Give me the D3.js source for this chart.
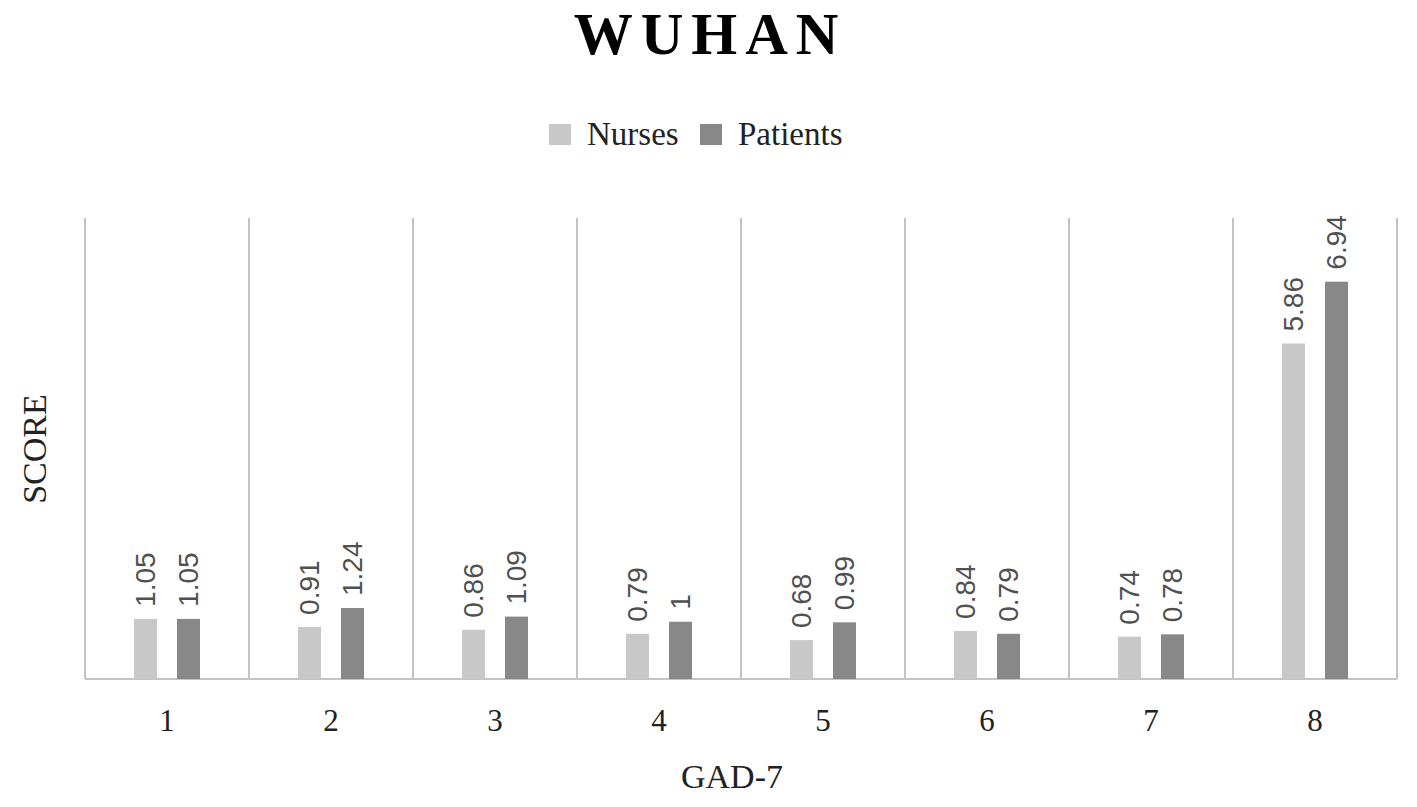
<!DOCTYPE html>
<html lang="en">
<head>
    <meta charset="UTF-8">
    <title>WUHAN GAD-7</title>
    <script src="https://d3js.org/d3.v7.min.js"></script>
    <style>
        body { margin: 0; background: #fff; font-family: "Liberation Serif", "Times New Roman", serif; }
        svg { display: block; }
        .grid { stroke: #c4c4c4; stroke-width: 2; }
        .lbl { font-family: "Liberation Sans", Arial, sans-serif; font-size: 28px; fill: #505050; }
        .tick-lbl { font-size: 31px; fill: #222; text-anchor: middle; }
        .axis-title { font-size: 34px; fill: #222; text-anchor: middle; }
    </style>
</head>
<body>
<svg></svg>
<script>
    const width = 1417, height = 807;

    // data
    const categories = ["1", "2", "3", "4", "5", "6", "7", "8"];
    const series = ["Nurses", "Patients"];
    const nurses = [1.05, 0.91, 0.86, 0.79, 0.68, 0.84, 0.74, 5.86];
    const patients = [1.05, 1.24, 1.09, 1, 0.99, 0.79, 0.78, 6.94];
    const colors = ["#c8c8c8", "#888888"];

    const svg = d3.select("svg").attr("width", width).attr("height", height);

    const margin = { left: 85, right: 20, top: 218, bottom: 128 };
    const plotBottom = height - margin.bottom;   // 679

    const x = d3.scaleBand().domain(categories).range([margin.left, width - margin.right]);
    const bw = x.bandwidth();
    const x1 = d3.scaleBand().domain(series).range([bw / 2 - 33, bw / 2 + 33]).paddingInner(0.465);
    const y = d3.scaleLinear().domain([0, 8]).range([plotBottom, margin.top + 3]);
    const color = d3.scaleOrdinal().domain(series).range(colors);

    // vertical category separators
    const bounds = categories.map(c => x(c)).concat([x(categories[categories.length - 1]) + bw]);
    svg.selectAll(".sep")
        .data(bounds)
        .enter().append("line")
        .attr("class", "grid")
        .attr("x1", d => d).attr("x2", d => d)
        .attr("y1", margin.top).attr("y2", plotBottom);

    // baseline
    svg.append("line")
        .attr("class", "grid")
        .attr("x1", margin.left).attr("x2", width - margin.right)
        .attr("y1", plotBottom).attr("y2", plotBottom);

    const rows = categories.map((c, i) => ({ cat: c, vals: [
        { s: "Nurses", v: nurses[i] },
        { s: "Patients", v: patients[i] }
    ] }));

    const groups = svg.selectAll(".grp")
        .data(rows)
        .enter().append("g")
        .attr("transform", d => `translate(${x(d.cat)},0)`);

    groups.selectAll("rect")
        .data(d => d.vals)
        .enter().append("rect")
        .attr("x", d => x1(d.s))
        .attr("width", x1.bandwidth())
        .attr("y", d => y(d.v))
        .attr("height", d => plotBottom - y(d.v))
        .attr("fill", d => color(d.s));

    // rotated value labels
    groups.selectAll(".lbl")
        .data(d => d.vals)
        .enter().append("text")
        .attr("class", "lbl")
        .attr("transform", d => `translate(${x1(d.s) + x1.bandwidth() / 2},${y(d.v) - 12}) rotate(-90)`)
        .attr("dy", "0.35em")
        .text(d => d.v);

    // x tick labels
    svg.selectAll(".tick-lbl")
        .data(categories)
        .enter().append("text")
        .attr("class", "tick-lbl")
        .attr("x", d => x(d) + bw / 2)
        .attr("y", plotBottom + 52)
        .text(d => d);

    // axis titles
    svg.append("text").attr("class", "axis-title")
        .attr("x", (margin.left + width - margin.right) / 2 - 9).attr("y", 788)
        .text("GAD-7");
    svg.append("text").attr("class", "axis-title")
        .attr("transform", `translate(46,449) rotate(-90)`)
        .text("SCORE");

    // title
    svg.append("text")
        .attr("x", 710).attr("y", 54)
        .attr("text-anchor", "middle")
        .style("font-size", "59px").style("font-weight", "bold").style("letter-spacing", "8px")
        .text("WUHAN");

    // legend
    const legend = svg.append("g");
    const legX = [549, 700];
    series.forEach((s, i) => {
        legend.append("rect")
            .attr("x", legX[i]).attr("y", 124).attr("width", 22).attr("height", 21)
            .attr("fill", color(s));
        legend.append("text")
            .attr("x", legX[i] + 38).attr("y", 145)
            .style("font-size", "33px").attr("fill", "#222")
            .text(s);
    });
</script>
</body>
</html>
